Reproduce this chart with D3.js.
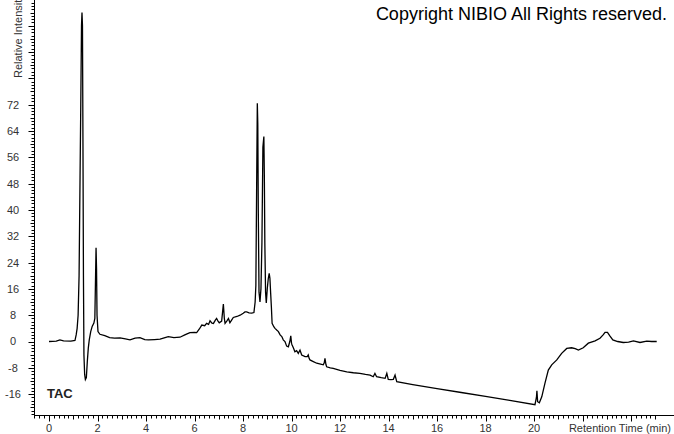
<!DOCTYPE html>
<html>
<head>
<meta charset="utf-8">
<script src="https://cdn.jsdelivr.net/npm/d3@7/dist/d3.min.js"></script>
<style>
  html, body { margin: 0; padding: 0; background: #fff; }
  svg { display: block; }
  text { font-family: Arial, "Liberation Sans", sans-serif; }
</style>
</head>
<body>
<svg id="chart" width="674" height="434"></svg>
<script>
// Retention time (min)
const times = [
  0, 0.3, 0.45, 0.6, 0.9, 1.07, 1.12, 1.16, 1.2, 1.24, 1.28, 1.31, 1.34, 1.36, 1.38, 1.40, 1.42, 1.44, 1.47, 1.5,
  1.54, 1.58, 1.62, 1.66, 1.72, 1.78, 1.85, 1.89, 1.92, 1.94, 1.96, 1.98, 2.02, 2.1, 2.3, 2.5, 2.7, 2.93, 3.15, 3.34,
  3.55, 3.75, 3.95, 4.1, 4.35, 4.58, 4.75, 4.92, 5.15, 5.4, 5.6, 5.81, 6.0, 6.09, 6.2, 6.3, 6.42, 6.5, 6.58, 6.64,
  6.72, 6.78, 6.86, 6.91, 6.97, 7.02, 7.12, 7.19, 7.23, 7.26, 7.33, 7.4, 7.46, 7.53, 7.6, 7.75, 7.88, 8.01, 8.08, 8.15,
  8.25, 8.36, 8.45, 8.5, 8.53, 8.56, 8.59, 8.61, 8.63, 8.66, 8.70, 8.74, 8.78, 8.82, 8.86, 8.88, 8.9, 8.93, 8.96, 9.0,
  9.04, 9.08, 9.11, 9.14, 9.17, 9.2, 9.27, 9.32, 9.4, 9.46, 9.53, 9.6, 9.66, 9.73, 9.8, 9.87, 9.93, 9.97, 10.0, 10.02,
  10.08, 10.14, 10.21, 10.28, 10.35, 10.42, 10.56, 10.65, 10.69, 10.73, 10.76, 10.9, 11.04, 11.2, 11.31, 11.35, 11.38, 11.42, 11.45, 11.6,
  11.72, 12.0, 12.28, 12.55, 12.82, 13.05, 13.24, 13.37, 13.44, 13.51, 13.7, 13.86, 13.93, 13.99, 14.1, 14.2, 14.27, 14.34, 15.0, 16.0,
  17.0, 18.0, 19.0, 20.04, 20.1, 20.12, 20.15, 20.22, 20.32, 20.45, 20.59, 20.73, 20.94, 21.14, 21.35, 21.55, 21.7, 21.83, 22.03, 22.24,
  22.52, 22.72, 22.85, 22.93, 23.03, 23.12, 23.25, 23.45, 23.68, 23.9, 24.1, 24.37, 24.65, 24.85, 25.06
];
// Relative intensity
const intensity = [
  0, 0.1, 0.5, 0.2, 0.1, 0.3, 2, 4, 8, 20, 50, 72, 96, 100, 96, 60, 20, -4, -10, -11.6,
  -11, -6, -2, 0.5, 3, 4.6, 5.6, 7, 20, 28.5, 22, 8, 3, 2.2, 1.8, 1.2, 1, 1.1, 0.8, 0.5,
  1, 1.2, 0.6, 0.5, 0.6, 0.7, 1.1, 1.5, 1.2, 1.3, 2, 2.7, 2.8, 2.7, 3.8, 5, 4.8, 5.5, 5.2, 6.3,
  5.6, 5.5, 6.5, 7, 6.2, 5.7, 6.2, 11.4, 7, 5.5, 6.2, 7, 5.7, 6.5, 7.3, 7.6, 8, 8.6, 9, 9,
  8.7, 8.6, 8.8, 12, 17, 45, 72.4, 66, 40, 15, 12, 16, 30, 59, 62.3, 50, 30, 15, 11.7, 16,
  19, 20.7, 19.2, 14.7, 10.5, 5.5, 4.5, 4, 3.4, 3, 2, 1.5, 0.5, 0, -1.4, -1.6, 0, 1.7, -0.5, -1,
  -2, -3.1, -2.8, -3.6, -2.6, -4.1, -4.6, -4.6, -4.1, -5.2, -5.6, -6.1, -6.6, -6.9, -7.1, -6.5, -5.1, -7, -7.7, -8,
  -8.2, -8.8, -9.2, -9.5, -9.7, -10, -10.2, -10.7, -9.7, -10.7, -11, -11.2, -9.7, -11.5, -11.6, -11.5, -10.2, -12.2, -13.1, -14.3,
  -15.5, -16.7, -17.9, -19.2, -17, -15, -18.3, -18.6, -16.8, -12.7, -8.7, -7.1, -5.6, -3.6, -2.1, -1.9, -2.2, -2.6, -1.9, -0.5,
  0.2, 1, 2, 2.8, 2.8, 1.8, 0.5, 0, -0.3, -0.2, 0.2, -0.3, 0.1, 0, 0
];
const xTickLabels = [0, 2, 4, 6, 8, 10, 12, 14, 16, 18, 20];
const yTickLabels = [-16, -8, 0, 8, 16, 24, 32, 40, 48, 56, 64, 72];
const xTitle = "Retention Time (min)";
const yTitle = "Relative Intensity";
const traceName = "TAC";
const copyright = "Copyright NIBIO All Rights reserved.";

const svg = d3.select("#chart");
const x = d3.scaleLinear().domain([-0.619, 25.773]).range([34, 674]);
const y = d3.scaleLinear().domain([-22.34, 103.8]).range([415, 0]);

// X axis
const gx = svg.append("g").attr("transform", "translate(0,415.5)");
gx.append("line").attr("x1", 34).attr("x2", 674).attr("stroke", "#000");
const xMinor = d3.range(0, 129).map(i => -0.6 + i * 0.2).filter(v => x(v) <= 674);
gx.selectAll("line.minor").data(xMinor).join("line")
  .attr("class", "minor")
  .attr("x1", d => Math.round(x(d)) + 0.5).attr("x2", d => Math.round(x(d)) + 0.5)
  .attr("y1", 0)
  .attr("y2", d => {
    const r = Math.round(d * 10) / 10;
    if (Math.abs(r % 2) < 1e-6) return 6;
    if (Math.abs(r % 1) < 1e-6) return 4;
    return 3;
  })
  .attr("stroke", "#000");
gx.selectAll("text").data(xTickLabels).join("text")
  .attr("x", d => x(d)).attr("y", 16)
  .attr("text-anchor", "middle")
  .attr("font-size", 11).attr("fill", "#333")
  .text(d => d);
svg.append("text").attr("x", 671).attr("y", 431.5)
  .attr("text-anchor", "end").attr("font-size", 11).attr("fill", "#333")
  .text(xTitle);

// Y axis
const gy = svg.append("g").attr("transform", "translate(34.5,0)");
gy.append("line").attr("y1", 0).attr("y2", 415).attr("stroke", "#000");
const yMinor = d3.range(-22, 104, 1);
gy.selectAll("line.minor").data(yMinor).join("line")
  .attr("class", "minor")
  .attr("y1", d => Math.round(y(d)) + 0.5).attr("y2", d => Math.round(y(d)) + 0.5)
  .attr("x1", 0)
  .attr("x2", d => (d % 8 === 0) ? -6 : (d % 4 === 0 ? -4 : -3))
  .attr("stroke", "#000");
svg.selectAll("text.ylab").data(yTickLabels).join("text")
  .attr("class", "ylab")
  .attr("x", 13).attr("y", d => y(d))
  .attr("dy", "0.36em")
  .attr("text-anchor", "middle")
  .attr("font-size", 11).attr("fill", "#333")
  .text(d => d);
svg.append("text")
  .attr("transform", "translate(22,78) rotate(-90)")
  .attr("text-anchor", "start").attr("font-size", 11).attr("fill", "#333")
  .text(yTitle);

// Trace
const pts = times.map((t, i) => [t, intensity[i]]);
const line = d3.line().x(d => x(d[0])).y(d => y(d[1]));
svg.append("path").datum(pts)
  .attr("d", line)
  .attr("fill", "none").attr("stroke", "#000").attr("stroke-width", 1.3)
  .attr("stroke-linejoin", "miter");

// Labels
svg.append("text").attr("x", 47).attr("y", 398)
  .attr("font-size", 13).attr("font-weight", "bold").attr("fill", "#222")
  .text(traceName);
svg.append("text").attr("x", 667).attr("y", 20)
  .attr("text-anchor", "end").attr("font-size", 18).attr("fill", "#000")
  .text(copyright);
</script>
</body>
</html>
